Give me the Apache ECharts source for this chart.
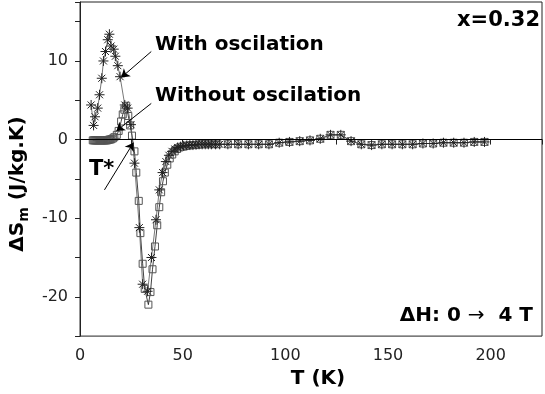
<!DOCTYPE html>
<html>
<head>
<meta charset="utf-8">
<script src="https://cdn.jsdelivr.net/npm/echarts@6/dist/echarts.min.js"></script>
<style>
  html, body { margin: 0; padding: 0; background: #fff; }
  #chart { width: 545px; height: 394px; }
</style>
</head>
<body>
<div id="chart"></div>
<script>
// with oscillation (asterisks)
var withOscT = [5.4, 6.6, 7.3, 8.6, 9.5, 10.6, 11.4, 12.4, 13.5, 14.3, 15.1, 16.4, 17.2, 18.4, 19.5,
  21.8, 23.2, 24.8, 26.5, 28.9, 30.5, 32.9, 34.8, 37.0, 38.6, 40.2, 41.8, 43.3, 44.8, 46.2, 47.6,
  49.0, 50.5, 52.0, 53.5, 55.0, 56.5, 58.0, 59.5, 61.0, 62.5, 64.0, 66.0, 68.0,
  72, 77, 82, 87, 92, 97, 102, 107, 112, 117, 122, 127, 132, 137, 142, 147, 152, 157, 162, 167,
  172, 177, 182, 187, 192, 197];
var withOscS = [4.4, 1.8, 2.9, 4.0, 5.7, 7.8, 10.0, 11.2, 12.7, 13.4, 11.9, 11.5, 10.6, 9.4, 8.0,
  4.4, 4.0, 1.9, -3.0, -11.2, -18.4, -19.3, -15.0, -10.2, -6.4, -4.2, -2.8, -2.0, -1.5, -1.2, -1.0,
  -0.9, -0.8, -0.75, -0.7, -0.7, -0.65, -0.6, -0.6, -0.6, -0.6, -0.6, -0.6, -0.6,
  -0.6, -0.6, -0.6, -0.6, -0.6, -0.4, -0.3, -0.2, -0.1, 0.1, 0.6, 0.6, -0.2, -0.6, -0.7, -0.6,
  -0.6, -0.6, -0.6, -0.5, -0.5, -0.4, -0.4, -0.4, -0.3, -0.3];

// without oscillation (open squares)
var noOscT = [6.2, 6.7, 7.2, 7.7, 8.2, 8.7, 9.2, 9.7, 10.2, 10.7, 11.2, 11.7, 12.2, 12.7, 13.2,
  13.7, 14.2, 14.7, 15.3, 16.0,
  16.7, 17.9, 18.8, 20.0, 20.8, 21.6, 22.5, 23.5, 24.4, 25.3, 26.5, 27.4, 28.6, 29.4, 30.5, 31.5,
  33.3, 34.3, 35.3, 36.5, 37.6, 38.6, 39.5, 40.4, 41.3, 42.5, 43.7, 44.9, 46.1, 47.3, 48.5,
  50.0, 51.5, 53.0, 54.5, 56.0, 57.5, 59.0, 61.0, 63.0, 65.0, 67.0,
  72, 77, 82, 87, 92, 97, 102, 107, 112, 117, 122, 127, 132, 137, 142, 147, 152, 157, 162, 167,
  172, 177, 182, 187, 192, 197];
var noOscS = [-0.1, -0.1, -0.1, -0.1, -0.1, -0.1, -0.1, -0.1, -0.1, -0.1, -0.1, -0.1, -0.1, -0.1, -0.1,
  -0.05, 0.0, 0.0, 0.05, 0.15,
  0.3, 0.6, 1.1, 2.3, 3.2, 3.8, 4.3, 3.0, 1.8, 0.5, -1.5, -4.2, -7.8, -11.9, -15.8, -19.0,
  -21.0, -19.4, -16.5, -13.6, -10.9, -8.6, -6.7, -5.3, -4.2, -3.2, -2.4, -1.9, -1.5, -1.2, -1.0,
  -0.9, -0.8, -0.75, -0.7, -0.7, -0.65, -0.6, -0.6, -0.6, -0.6, -0.6,
  -0.6, -0.6, -0.6, -0.6, -0.6, -0.4, -0.3, -0.2, -0.1, 0.1, 0.6, 0.6, -0.2, -0.6, -0.7, -0.6,
  -0.6, -0.6, -0.6, -0.5, -0.5, -0.4, -0.4, -0.4, -0.3, -0.3];

// arrows (data coords): [fromT, fromS, toT, toS]
var arrowWith = [34.7, 11.2, 20.1, 7.9];
var arrowWithout = [34.7, 4.6, 17.7, 1.1];
var arrowTstar = [11.9, -6.4, 26.0, -0.4];

var xTicks = [0, 50, 100, 150, 200];
var yTicks = [-20, -10, 0, 10];

function pairs(xs, ys) {
  var out = [];
  for (var i = 0; i < xs.length; i++) out.push([xs[i], ys[i]]);
  return out;
}
function arrow(a) {
  return [{ coord: [a[0], a[1]] }, { coord: [a[2], a[3]] }];
}

var FONT = '"DejaVu Sans", Verdana, sans-serif';
var star = 'path://M0,5L10,5M5,0L5,10M1.5,1.5L8.5,8.5M8.5,1.5L1.5,8.5';

var chart = echarts.init(document.getElementById('chart'));

var option = {
  animation: false,
  backgroundColor: '#fff',
  grid: { left: 80, right: 2, top: 2, bottom: 54, show: true, borderColor: '#222', borderWidth: 1 },
  xAxis: {
    type: 'value',
    min: 0, max: 225, interval: 25,
    name: 'T (K)',
    nameLocation: 'middle',
    nameGap: 30,
    nameTextStyle: { fontFamily: FONT, fontWeight: 'bold', fontSize: 20, color: '#000', padding: [0, 0, 0, 14] },
    axisLine: { lineStyle: { color: '#222', width: 1 } },
    axisTick: { length: 5, lineStyle: { color: '#222' } },
    axisLabel: {
      fontFamily: FONT, fontSize: 16, color: '#222', margin: 12,
      formatter: function (v) { return xTicks.indexOf(v) >= 0 ? String(v) : ''; }
    },
    splitLine: { show: false }
  },
  yAxis: {
    type: 'value',
    min: -25, max: 17.5, interval: 5,
    name: '{b|ΔS}{s|m}{b| (J/kg.K)}',
    nameLocation: 'middle',
    nameGap: 42,
    nameTextStyle: {
      padding: [0, 30, 0, 0],
      rich: {
        b: { fontFamily: FONT, fontWeight: 'bold', fontSize: 20, color: '#000' },
        s: { fontFamily: FONT, fontWeight: 'bold', fontSize: 14, color: '#000', padding: [12, 0, 0, 0] }
      }
    },
    axisLine: { lineStyle: { color: '#222', width: 1 } },
    axisTick: { length: 5, lineStyle: { color: '#222' } },
    axisLabel: {
      fontFamily: FONT, fontSize: 16, color: '#222', margin: 12,
      formatter: function (v) { return yTicks.indexOf(v) >= 0 ? String(v) : ''; }
    },
    splitLine: { show: false }
  },
  series: [
    {
      name: 'Without oscilation',
      type: 'line',
      data: pairs(noOscT, noOscS),
      symbol: 'rect',
      symbolSize: 7,
      showAllSymbol: true,
      itemStyle: { color: 'rgba(0,0,0,0)', borderColor: '#555', borderWidth: 1 },
      lineStyle: { color: '#111', width: 0.8 },
      markLine: {
        silent: true,
        symbol: ['none', 'none'],
        label: { show: false },
        lineStyle: { color: '#000', width: 1, type: 'solid' },
        data: [{ yAxis: 0 }]
      }
    },
    {
      name: 'With oscilation',
      type: 'line',
      data: pairs(withOscT, withOscS),
      symbol: star,
      symbolSize: 10,
      showAllSymbol: true,
      itemStyle: { color: 'rgba(0,0,0,0)', borderColor: '#222', borderWidth: 1 },
      lineStyle: { color: '#555', width: 0.8 },
      markLine: {
        silent: true,
        symbol: ['none', 'arrow'],
        symbolSize: 8,
        label: { show: false },
        lineStyle: { color: '#000', width: 1, type: 'solid' },
        data: [arrow(arrowWith), arrow(arrowWithout), arrow(arrowTstar)]
      }
    }
  ],
  graphic: [
    { type: 'text', x: 155, y: 45, style: { text: 'With oscilation', font: 'bold 20px ' + FONT, fill: '#000', verticalAlign: 'middle' } },
    { type: 'text', x: 155, y: 96, style: { text: 'Without oscilation', font: 'bold 20px ' + FONT, fill: '#000', verticalAlign: 'middle' } },
    { type: 'text', x: 89, y: 170, style: { text: 'T*', font: 'bold 21px ' + FONT, fill: '#000', verticalAlign: 'middle' } },
    { type: 'text', x: 540, y: 21, style: { text: 'x=0.32', font: 'bold 21px ' + FONT, fill: '#000', align: 'right', verticalAlign: 'middle' } },
    {
      type: 'text', x: 533, y: 316,
      style: {
        text: '{b|ΔH: 0 }{r|\u2192}{b|  4 T}',
        align: 'right', verticalAlign: 'middle',
        rich: {
          b: { font: 'bold 20px ' + FONT, fill: '#000' },
          r: { font: 'normal 20px ' + FONT, fill: '#000' }
        }
      }
    }
  ]
};

chart.setOption(option);
</script>
</body>
</html>
